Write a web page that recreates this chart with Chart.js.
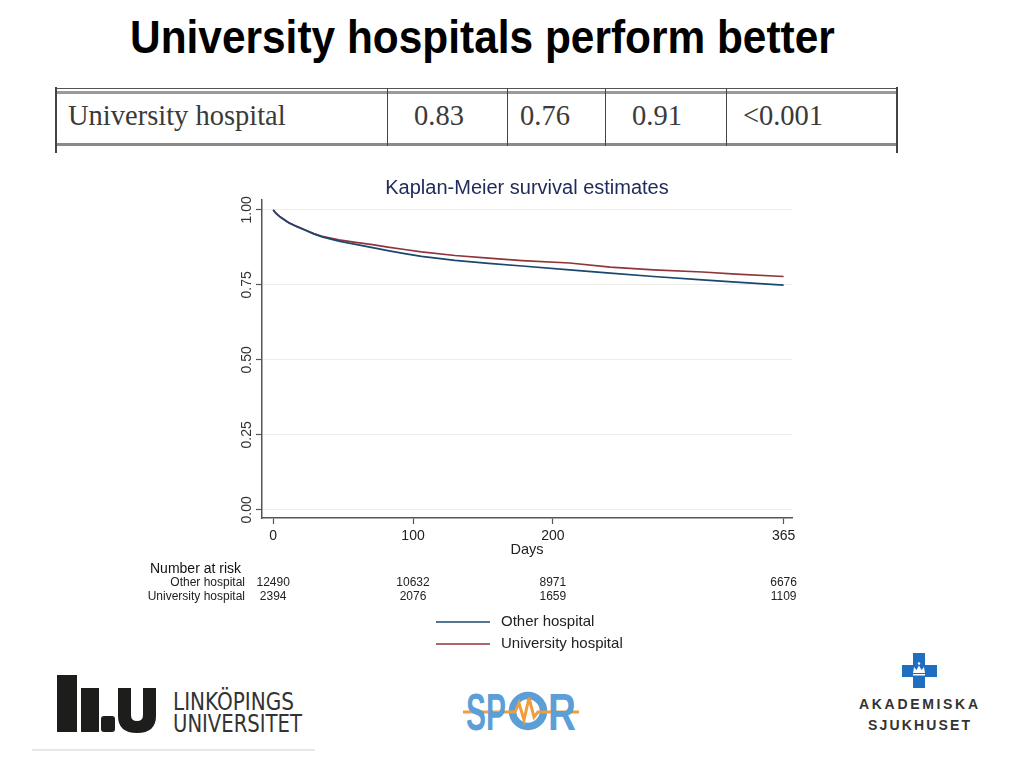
<!DOCTYPE html>
<html>
<head>
<meta charset="utf-8">
<title>University hospitals perform better</title>
<script src="https://cdn.jsdelivr.net/npm/chart.js@4.4.0/dist/chart.umd.min.js"></script>
<style>
  html, body { margin: 0; padding: 0; background: #fff; }
  #page { position: relative; width: 1024px; height: 768px; overflow: hidden; background: #fff;
          font-family: "Liberation Sans", Arial, sans-serif; }
  .abs { position: absolute; }
  #slideTitle { left: 130px; top: 19px; font-size: 42px; font-weight: bold; line-height: 42px;
                color: #000; white-space: nowrap; transform: scale(1.01, 1.08); transform-origin: left bottom; }
  .hline { position: absolute; left: 55px; width: 843px; }
  .vline { position: absolute; width: 1px; background: #444; }
  .cell { position: absolute; top: 97px; font-family: "Liberation Serif", "DejaVu Serif", serif;
          font-size: 28.5px; line-height: 38px; color: #3a3a3a; white-space: nowrap; }
  .num { transform: translateX(-50%); }
  #logos { left: 0; top: 0; }
  #km { left: 0; top: 0; }
</style>
</head>
<body>
<div id="page">
  <div id="slideTitle" class="abs">University hospitals perform better</div>

  <!-- hazard ratio row -->
  <div class="hline" style="top:88px;height:1px;background:#555"></div>
  <div class="hline" style="top:91px;height:3px;background:#9a9a9a"></div>
  <div class="hline" style="top:143px;height:3px;background:#8a8a8a"></div>
  <div class="vline" style="left:55px;top:87px;height:66px;width:2px"></div>
  <div class="vline" style="left:387px;top:88px;height:58px"></div>
  <div class="vline" style="left:507px;top:88px;height:58px"></div>
  <div class="vline" style="left:605px;top:88px;height:58px"></div>
  <div class="vline" style="left:726px;top:88px;height:58px"></div>
  <div class="vline" style="left:896px;top:87px;height:66px;width:2px"></div>
  <div class="cell" style="left:68px">University hospital</div>
  <div class="cell num" style="left:439px">0.83</div>
  <div class="cell num" style="left:545px">0.76</div>
  <div class="cell num" style="left:657px">0.91</div>
  <div class="cell num" style="left:783px">&lt;0.001</div>

  <!-- logos -->
  <svg id="logos" class="abs" width="1024" height="768" viewBox="0 0 1024 768">
    <g fill="#1d1d1b">
      <rect x="57" y="675" width="20" height="57"/>
      <rect x="81" y="688" width="18" height="44"/>
      <rect x="101" y="716" width="14" height="16" rx="3"/>
      <path d="M118,688 H131 V715 Q131,721 137,721 Q143,721 143,715 V688 H156 V716 Q156,733 137,733 Q118,733 118,716 Z"/>
    </g>
    <g fill="#333" font-family="'Liberation Sans Narrow','DejaVu Sans Condensed','Liberation Sans',sans-serif" font-size="25">
      <text x="173" y="710" textLength="121" lengthAdjust="spacingAndGlyphs">LINKÖPINGS</text>
      <text x="173" y="732" textLength="129" lengthAdjust="spacingAndGlyphs">UNIVERSITET</text>
    </g>
    <line x1="32" y1="750" x2="315" y2="750" stroke="#cfcfcf" stroke-width="1"/>

    <line x1="463" y1="712" x2="506" y2="712" stroke="#ef9d3f" stroke-width="3"/>
    <line x1="551" y1="712" x2="579" y2="712" stroke="#ef9d3f" stroke-width="3"/>
    <g fill="#5b9fd6" font-family="'Liberation Sans Narrow','Liberation Sans',sans-serif" font-weight="bold" font-size="52">
      <text x="466" y="730" textLength="40" lengthAdjust="spacingAndGlyphs">SP</text>
      <text x="548" y="730" textLength="28" lengthAdjust="spacingAndGlyphs">R</text>
    </g>
    <circle cx="528" cy="711" r="15.5" fill="none" stroke="#5b9fd6" stroke-width="7.5"/>
    <polyline points="506,712 515,712 519,703 524,720 529,698 534,717 538,712 551,712" fill="none" stroke="#ef9d3f" stroke-width="3"/>

    <g fill="#1f6ec0">
      <rect x="913" y="653" width="12" height="35"/>
      <rect x="902" y="665" width="35" height="12"/>
    </g>
    <g fill="#fff">
      <path d="M913,673 L914,667 L916.5,670 L919,665.5 L921.5,670 L924,667 L925,673 Z"/>
      <rect x="913" y="674" width="12" height="1.5"/>
      <circle cx="919" cy="663.5" r="1.2"/>
    </g>
    <g fill="#333" font-family="'Liberation Sans',Arial,sans-serif" font-weight="bold" font-size="14">
      <text x="859" y="709" textLength="119" lengthAdjust="spacing">AKADEMISKA</text>
      <text x="868" y="730" textLength="102" lengthAdjust="spacing">SJUKHUSET</text>
    </g>
  </svg>

  <canvas id="km" class="abs" width="1024" height="768"></canvas>
</div>

<script>
// Kaplan-Meier estimates
const days = [0, 2, 5, 11, 17, 23, 29, 35, 47, 59, 71, 82, 94, 106, 130, 154, 178, 212, 241, 272, 307, 331, 365];
const otherHospital = [1.000, 0.988, 0.976, 0.957, 0.944, 0.932, 0.920, 0.910, 0.896, 0.885, 0.874, 0.864, 0.854, 0.845, 0.832, 0.822, 0.813, 0.800, 0.789, 0.778, 0.767, 0.759, 0.749];
const universityHospital = [1.000, 0.989, 0.977, 0.958, 0.945, 0.933, 0.921, 0.912, 0.900, 0.892, 0.884, 0.876, 0.868, 0.860, 0.848, 0.839, 0.831, 0.823, 0.809, 0.800, 0.793, 0.786, 0.778];

const seriesNames = ["Other hospital", "University hospital"];
const xTicks = [0, 100, 200, 365];
const yTicks = [0, 0.25, 0.5, 0.75, 1];

// number at risk table
const riskDays = [0, 100, 200, 365];
const riskOther = [12490, 10632, 8971, 6676];
const riskUniversity = [2394, 2076, 1659, 1109];

const chartTitle = "Kaplan-Meier survival estimates";
const FONT = '"Liberation Sans", Arial, sans-serif';

const toPoints = (xs, ys) => xs.map((d, i) => ({ x: d, y: ys[i] }));

// draws the title, rotated y labels, risk table and legend
const kmExtras = {
  id: "kmExtras",
  afterDraw(chart) {
    const { ctx, chartArea } = chart;
    const xs = chart.scales.x, ys = chart.scales.y;
    ctx.save();

    ctx.fillStyle = "#222c5a";
    ctx.font = "20px " + FONT;
    ctx.textAlign = "center";
    ctx.textBaseline = "middle";
    ctx.fillText(chartTitle, (chartArea.left + chartArea.right) / 2, chartArea.top - 12);

    ctx.fillStyle = "#333";
    ctx.font = "14px " + FONT;
    yTicks.forEach(v => {
      ctx.save();
      ctx.translate(chartArea.left - 15, ys.getPixelForValue(v));
      ctx.rotate(-Math.PI / 2);
      ctx.fillText(v.toFixed(2), 0, 0);
      ctx.restore();
    });

    // Number at risk
    ctx.fillStyle = "#111";
    ctx.textAlign = "left";
    ctx.font = "14px " + FONT;
    ctx.fillText("Number at risk", 150, 569);
    ctx.font = "12px " + FONT;
    ctx.fillStyle = "#222";
    ctx.textAlign = "right";
    ctx.fillText(seriesNames[0], 245, 583);
    ctx.fillText(seriesNames[1], 245, 597);
    ctx.textAlign = "center";
    riskDays.forEach((d, i) => {
      const px = xs.getPixelForValue(d);
      ctx.fillText(String(riskOther[i]), px, 583);
      ctx.fillText(String(riskUniversity[i]), px, 597);
    });

    // legend
    ctx.textAlign = "left";
    ctx.font = "15px " + FONT;
    chart.data.datasets.forEach((ds, i) => {
      const y = 622 + i * 22;
      ctx.strokeStyle = ds.borderColor;
      ctx.lineWidth = 1.3;
      ctx.beginPath();
      ctx.moveTo(436, y);
      ctx.lineTo(490, y);
      ctx.stroke();
      ctx.fillStyle = "#222";
      ctx.fillText(ds.label, 501, y);
    });

    ctx.restore();
  }
};

new Chart(document.getElementById("km"), {
  type: "line",
  data: {
    datasets: [
      {
        label: seriesNames[0],
        data: toPoints(days, otherHospital),
        borderColor: "#1a476f",
        borderWidth: 1.7,
        pointRadius: 0,
        tension: 0,
        fill: false
      },
      {
        label: seriesNames[1],
        data: toPoints(days, universityHospital),
        borderColor: "#90353b",
        borderWidth: 1.7,
        pointRadius: 0,
        tension: 0,
        fill: false
      }
    ]
  },
  options: {
    responsive: false,
    animation: false,
    devicePixelRatio: 1,
    layout: { padding: { left: 232, right: 232, top: 200, bottom: 208 } },
    plugins: {
      legend: { display: false },
      title: { display: false },
      tooltip: { enabled: false }
    },
    scales: {
      x: {
        type: "linear",
        min: -8,
        max: 371,
        afterBuildTicks: scale => { scale.ticks = xTicks.map(v => ({ value: v })); },
        afterFit: scale => { scale.height = 42; },
        border: { display: true, color: "#555", width: 1.5 },
        grid: { drawOnChartArea: false, drawTicks: true, tickLength: 6, tickColor: "#555", tickWidth: 1.2 },
        ticks: { color: "#222", font: { family: FONT, size: 14 }, padding: 4, maxRotation: 0 },
        title: { display: true, text: "Days", color: "#222", font: { family: FONT, size: 14.5 }, padding: { top: 0, bottom: 1 } }
      },
      y: {
        type: "linear",
        min: -0.027,
        max: 1.033,
        afterBuildTicks: scale => { scale.ticks = yTicks.map(v => ({ value: v })); },
        afterFit: scale => { scale.width = 30; },
        border: { display: true, color: "#555", width: 1.5 },
        grid: { color: "#ececec", lineWidth: 1, drawTicks: true, tickLength: 6, tickColor: "#555", tickWidth: 1.2 },
        ticks: { display: false }
      }
    }
  },
  plugins: [kmExtras]
});
</script>
</body>
</html>
